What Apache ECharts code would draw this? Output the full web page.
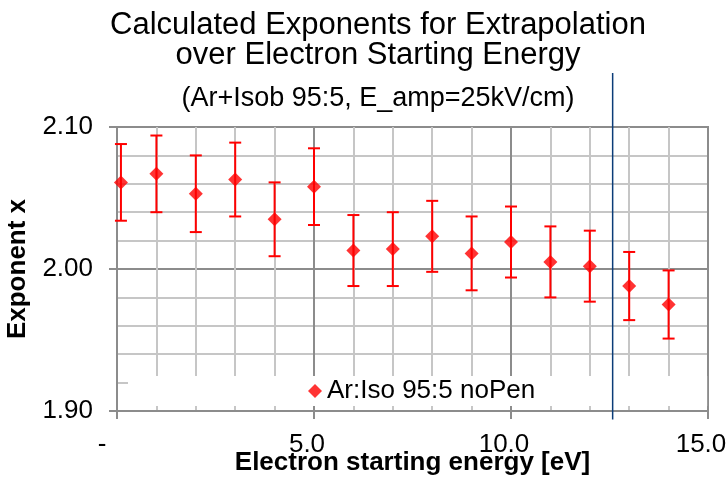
<!DOCTYPE html>
<html>
<head>
<meta charset="utf-8">
<script src="https://cdn.jsdelivr.net/npm/echarts@6/dist/echarts.min.js"></script>
<style>
  html, body { margin: 0; padding: 0; background: #fff; }
  #chart { width: 728px; height: 478px; }
</style>
</head>
<body>
<div id="chart"></div>
<script>
// electron starting energy [eV]
const energies = [0.1, 1, 2, 3, 4, 5, 6, 7, 8, 9, 10, 11, 12, 13, 14]
// fitted exponent x
const exponents = [2.061, 2.067, 2.053, 2.063, 2.035, 2.058, 2.013, 2.014, 2.023, 2.011, 2.019, 2.005, 2.002, 1.988, 1.975]
// error bar half-height
const errors = [0.027, 0.027, 0.027, 0.026, 0.026, 0.027, 0.025, 0.026, 0.025, 0.026, 0.025, 0.025, 0.025, 0.024, 0.024]
// vertical marker line (energy, from, to)
const markerLine = [12.58, 2.138, 1.894]

const seriesName = 'Ar:Iso 95:5 noPen'
const font = 'Liberation Sans, Arial, sans-serif'

const chart = echarts.init(document.getElementById('chart'))

const option = {
  animation: false,
  backgroundColor: '#fff',
  title: [
    {
      text: 'Calculated Exponents for Extrapolation\nover Electron Starting Energy',
      left: 378,
      top: 10,
      padding: 0,
      textAlign: 'center',
      textStyle: { fontFamily: font, fontSize: 31, fontWeight: 'normal', color: '#000', lineHeight: 30 },
    },
    {
      text: '(Ar+Isob 95:5, E_amp=25kV/cm)',
      left: 378,
      top: 86,
      padding: 0,
      textAlign: 'center',
      textStyle: { fontFamily: font, fontSize: 27, fontWeight: 'normal', color: '#000', lineHeight: 26 },
    },
  ],
  legend: {
    data: [seriesName],
    left: 128,
    top: 376,
    backgroundColor: '#fff',
    padding: [2, 172, 2, 180],
    itemWidth: 14,
    itemHeight: 14,
    itemGap: 5,
    textStyle: { fontFamily: font, fontSize: 26, color: '#000' },
  },
  grid: {
    left: 117,
    right: 20,
    top: 127,
    bottom: 67,
    outerBoundsMode: 'none',
    show: true,
    borderColor: '#8c8c8c',
    borderWidth: 2,
  },
  xAxis: {
    type: 'value',
    min: 0,
    max: 15,
    interval: 5,
    name: 'Electron starting energy [eV]',
    nameLocation: 'middle',
    nameGap: 39,
    nameMoveOverlap: false,
    nameTextStyle: { fontFamily: font, fontSize: 26, fontWeight: 'bold', color: '#000' },
    axisLine: { lineStyle: { color: '#8c8c8c', width: 2 } },
    axisTick: { show: true, length: 8, lineStyle: { color: '#8c8c8c', width: 2 } },
    axisLabel: {
      fontFamily: font,
      fontSize: 26,
      color: '#000',
      margin: 21,
      padding: [0, 14, 0, 0],
      formatter: (v) => (v === 0 ? '{d|-}' : v.toFixed(1)),
      rich: { d: { fontFamily: font, fontSize: 26, color: '#000', padding: [0, 16, 0, 0] } },
    },
    splitLine: { show: true, lineStyle: { color: '#8c8c8c', width: 2 } },
    minorTick: { show: false, splitNumber: 5 },
    minorSplitLine: { show: true, lineStyle: { color: '#c6c6c6', width: 2 } },
  },
  yAxis: {
    type: 'value',
    min: 1.9,
    max: 2.1,
    interval: 0.1,
    name: 'Exponent x',
    nameLocation: 'middle',
    nameGap: 86,
    nameMoveOverlap: false,
    nameTextStyle: { fontFamily: font, fontSize: 26, fontWeight: 'bold', color: '#000' },
    axisLine: { show: true, lineStyle: { color: '#8c8c8c', width: 2 } },
    axisTick: { show: true, length: 8, lineStyle: { color: '#8c8c8c', width: 2 } },
    axisLabel: {
      fontFamily: font,
      fontSize: 26,
      color: '#000',
      margin: 24,
      formatter: (v) => v.toFixed(2),
    },
    splitLine: { show: true, lineStyle: { color: '#8c8c8c', width: 2 } },
    minorTick: { show: false, splitNumber: 5 },
    minorSplitLine: { show: true, lineStyle: { color: '#c6c6c6', width: 2 } },
  },
  series: [
    {
      name: 'errors',
      type: 'custom',
      z: 3,
      data: energies.map((e, i) => [e, exponents[i] - errors[i], exponents[i] + errors[i]]),
      renderItem: (params, api) => {
        const x = api.value(0)
        const lo = api.coord([x, api.value(1)])
        const hi = api.coord([x, api.value(2)])
        const w = 6
        const style = { stroke: '#ff0000', lineWidth: 2 }
        return {
          type: 'group',
          children: [
            { type: 'line', shape: { x1: lo[0], y1: lo[1], x2: hi[0], y2: hi[1] }, style },
            { type: 'line', shape: { x1: hi[0] - w, y1: hi[1], x2: hi[0] + w, y2: hi[1] }, style },
            { type: 'line', shape: { x1: lo[0] - w, y1: lo[1], x2: lo[0] + w, y2: lo[1] }, style },
          ],
        }
      },
    },
    {
      name: seriesName,
      type: 'scatter',
      z: 4,
      symbol: 'diamond',
      symbolSize: 14,
      itemStyle: { color: '#ff0000' },
      data: energies.map((e, i) => [e, exponents[i]]),
    },
    {
      name: 'marker',
      type: 'custom',
      z: 10,
      clip: false,
      data: [markerLine],
      renderItem: (params, api) => {
        const x = api.value(0)
        const a = api.coord([x, api.value(1)])
        const b = api.coord([x, api.value(2)])
        return {
          type: 'line',
          shape: { x1: a[0], y1: a[1], x2: b[0], y2: b[1] },
          style: { stroke: '#0b3c78', lineWidth: 1.5 },
        }
      },
    },
  ],
}

chart.setOption(option)
</script>
</body>
</html>
